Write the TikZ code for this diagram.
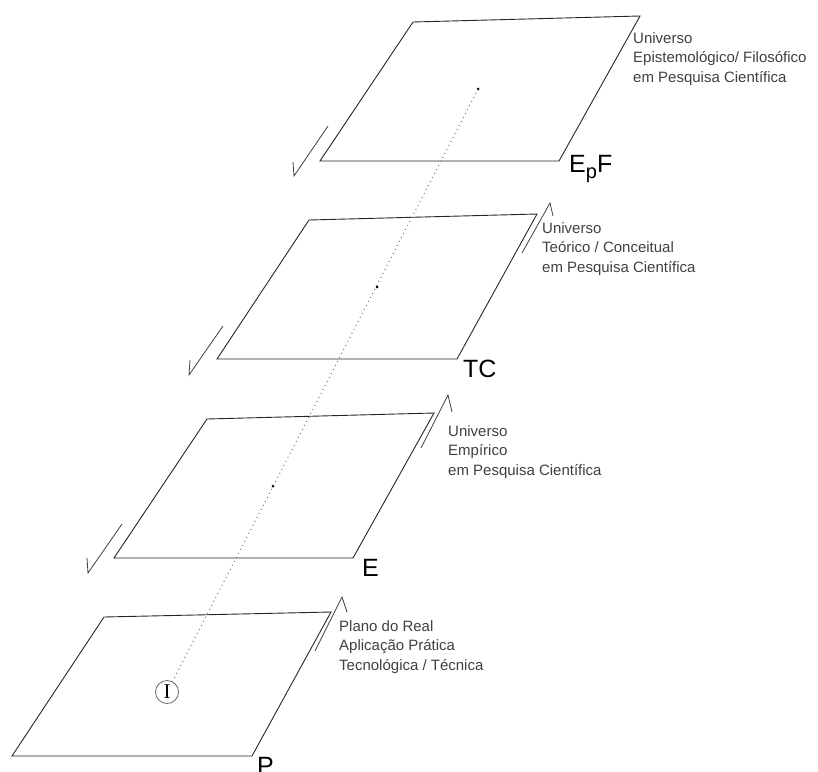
\documentclass[tikz,border=0pt]{standalone}
\usepackage{fontspec}
\setmainfont{Liberation Sans}
\newfontfamily\seriffam{Liberation Serif}

\begin{document}
\begin{tikzpicture}[x=1pt, y=-1pt,
  plane/.style={draw=black!85, line width=0.9pt, line join=miter},
  harp/.style={black!75, line width=0.8pt},
  note/.style={font=\fontsize{15}{19.5}\selectfont, text=black!75, align=left, inner sep=0pt, anchor=base west},
  tag/.style={font=\fontsize{25}{25}\selectfont, inner sep=0pt, anchor=base west},
  ctrdot/.style={circle, fill=black, inner sep=0pt, minimum size=3pt},
  spine/.style={black!55, line width=1pt, dash pattern=on 0.9pt off 3.6pt}]
  \useasboundingbox (0,0) rectangle (818,771);

  % EpF plane (note anchored on its last line)
  \draw[plane] (413,22) -- (640,16) -- (559,161) -- (320,161) -- cycle;
  \draw[harp] (328,126) -- (294,176) -- (293,162);
  \node[ctrdot] (D1) at (478,89) {};
  \node[tag] (L1) at (569,172) {E\raisebox{-6pt}{\fontsize{20}{20}\selectfont p}F};
  \node[note] (N1) at (633,82) {Universo\\Epistemológico/ Filosófico\\em Pesquisa Científica};

  % TC plane
  \draw[plane] (309,220) -- (537,214) -- (457,359) -- (217,359) -- cycle;
  \draw[harp] (223,326) -- (189,375) -- (190,360);
  \draw[harp] (522,253) -- (550,203) -- (553,216);
  \node[ctrdot] (D2) at (377,287) {};
  \node[tag] (L2) at (463,377) {TC};
  \node[note] (N2) at (542,272) {Universo\\Teórico / Conceitual\\em Pesquisa Científica};

  % E plane
  \draw[plane] (207,419) -- (434,413) -- (353,558) -- (114,558) -- cycle;
  \draw[harp] (122,524) -- (88,573) -- (87,558);
  \draw[harp] (421,448) -- (448,395) -- (452,412);
  \node[ctrdot] (D3) at (273,486) {};
  \node[tag] (L3) at (362,576) {E};
  \node[note] (N3) at (448,475) {Universo\\Empírico\\em Pesquisa Científica};

  % P plane
  \draw[plane] (104,617) -- (331,612) -- (252,756) -- (12,756) -- cycle;
  \draw[harp] (315,651) -- (342,597) -- (347,612);
  \node[circle, draw=black!60, line width=0.8pt, minimum size=23pt, inner sep=0pt, font=\seriffam\fontsize{21}{21}\selectfont] (I0) at (167,692) {I};
  \node[tag] (L4) at (257,774) {P};
  \node[note] (N4) at (339,670) {Plano do Real\\Aplicação Prática\\Tecnológica / Técnica};

  % dotted axis
  \draw[spine] (D1.center) -- (I0);
\end{tikzpicture}
\end{document}
